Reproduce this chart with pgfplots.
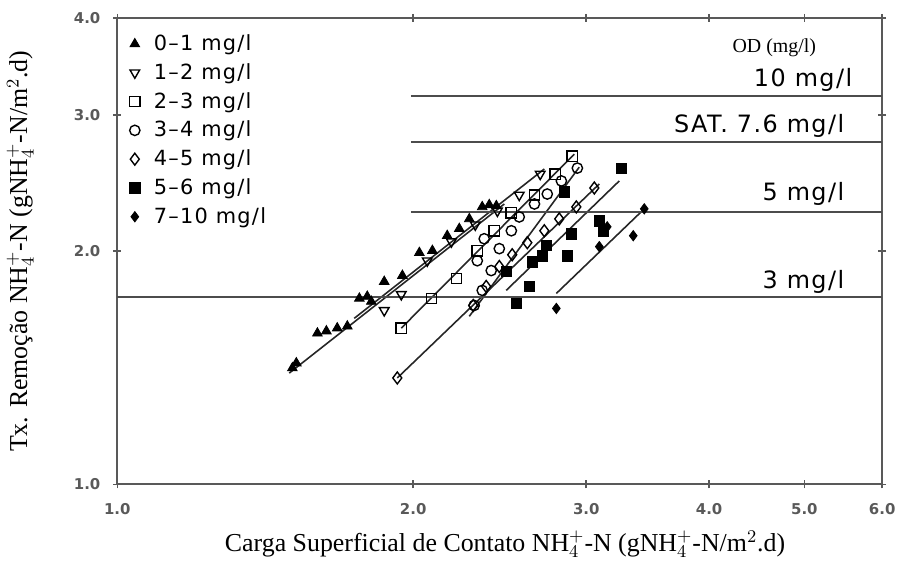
\documentclass[border=0pt]{standalone}
\usepackage{fontspec}
\setmainfont{Liberation Serif}
\newfontfamily\plotfont[LetterSpace=6]{DejaVu Sans}
\newfontfamily\tickfont{DejaVu Sans}
\usepackage{pgfplots}
\pgfplotsset{compat=1.18}
\definecolor{axgray}{gray}{0.35}
\definecolor{refgray}{gray}{0.3}
\newcommand{\nh}{NH$_{4}^{+}$}

\begin{document}
\begin{tikzpicture}
\begin{axis}[
    scale only axis,
    width=384.5pt, height=234.5pt,
    xmode=log, ymode=log,
    xmin=1, xmax=6, ymin=1, ymax=4,
    xtick={1,2,3,4,5,6},
    xticklabels={1.0,2.0,3.0,4.0,5.0,6.0},
    ytick={1,2,3,4},
    yticklabels={1.0,2.0,3.0,4.0},
    minor xtick={}, minor ytick={},
    tick align=center,
    major tick length=4pt,
    axis line style={axgray, line width=1pt},
    every tick/.style={axgray, line width=0.8pt},
    ticklabel style={font=\tickfont\bfseries\fontsize{7.5}{9}\selectfont, text=black!65},
    xticklabel style={yshift=-4pt},
    yticklabel style={xshift=-3pt},
    xlabel={Carga Superficial de Contato \nh-N (g\nh-N/m$^{2}$.d)},
    ylabel={Tx. Remoção \nh-N (g\nh-N/m$^{2}$.d)},
    label style={font=\fontsize{13}{15}\selectfont},
    xlabel style={at={(axis description cs:0.507,-0.128)}, anchor=center},
    ylabel style={at={(axis description cs:-0.127,0.5)}, anchor=center},
    clip=false,
    legend style={at={(axis description cs:0.013,0.978)}, anchor=north west,
        draw=none, fill=none, font=\plotfont\fontsize{10.5}{12}\selectfont,
        row sep=1pt, inner sep=1pt,
        /tikz/every odd column/.append style={column sep=5pt}},
    legend cell align=left,
    every axis plot/.append style={black},
]
% 0-1 mg/l
\addplot[only marks, mark=triangle*, mark size=2.8pt] coordinates {
(1.507,1.413) (1.521,1.434) (1.598,1.567) (1.632,1.577) (1.674,1.591) (1.714,1.600)
(1.763,1.738) (1.796,1.748) (1.813,1.722) (1.869,1.827) (1.950,1.860) (2.029,1.991)
(2.092,2.003) (2.166,2.094) (2.228,2.138) (2.281,2.201) (2.351,2.281) (2.390,2.295) (2.430,2.288)};
\addlegendentry{0–1 mg/l}
% 1-2 mg/l
\addplot[only marks, mark=triangle, mark size=2.8pt, mark options={rotate=180, line width=0.7pt}] coordinates {
(1.869,1.677) (1.945,1.759) (2.067,1.944) (2.187,2.057) (2.313,2.163) (2.436,2.254) (2.564,2.363) (2.693,2.515)};
\addlegendentry{1–2 mg/l}
% 2-3 mg/l
\addplot[only marks, mark=square, mark size=2.6pt, mark options={line width=0.7pt}] coordinates {
(1.945,1.591) (2.087,1.738) (2.213,1.844) (2.324,2.003) (2.418,2.125) (2.517,2.241) (2.657,2.363) (2.789,2.515) (2.903,2.652)};
\addlegendentry{2–3 mg/l}
% 3-4 mg/l
\addplot[only marks, mark=o, mark size=2.6pt, mark options={line width=0.7pt}] coordinates {
(2.307,1.702) (2.351,1.780) (2.401,1.888) (2.324,1.944) (2.447,2.015) (2.362,2.075) (2.517,2.125)
(2.564,2.214) (2.657,2.301) (2.738,2.370) (2.830,2.464) (2.938,2.560)};
\addlegendentry{3–4 mg/l}
% 4-5 mg/l
\addplot[only marks, mark=diamond, mark size=3pt, mark options={line width=0.7pt}] coordinates {
(1.927,1.372) (2.302,1.702) (2.373,1.801) (2.447,1.911) (2.522,1.979) (2.613,2.051) (2.719,2.125)
(2.816,2.201) (2.931,2.281) (3.057,2.413)};
\addlegendentry{4–5 mg/l}
% 5-6 mg/l
\addplot[only marks, mark=square*, mark size=2.6pt] coordinates {
(2.546,1.712) (2.625,1.801) (2.487,1.882) (2.644,1.938) (2.706,1.973) (2.732,2.033) (2.870,1.973)
(2.897,2.106) (3.093,2.189) (3.122,2.125) (3.256,2.560) (2.850,2.385)};
\addlegendentry{5–6 mg/l}
% 7-10 mg/l
\addplot[only marks, mark=diamond*, mark size=2.6pt] coordinates {
(2.797,1.687) (3.093,2.027) (3.151,2.150) (3.349,2.094) (3.437,2.268)};
\addlegendentry{7–10 mg/l}

% regression lines
\addplot[forget plot, black!85, line width=0.8pt] coordinates {(1.496,1.392) (2.476,2.301)};
\addplot[forget plot, black!85, line width=0.8pt] coordinates {(1.742,1.638) (2.719,2.553)};
\addplot[forget plot, black!85, line width=0.8pt] coordinates {(1.945,1.591) (2.917,2.668)};
\addplot[forget plot, black!85, line width=0.8pt] coordinates {(2.281,1.648) (2.951,2.567)};
\addplot[forget plot, black!85, line width=0.8pt] coordinates {(1.927,1.372) (3.093,2.442)};
\addplot[forget plot, black!85, line width=0.8pt] coordinates {(2.487,1.780) (3.241,2.464)};
\addplot[forget plot, black!85, line width=0.8pt] coordinates {(2.797,1.764) (3.437,2.268)};

% OD reference lines
\addplot[forget plot, refgray, line width=1pt] coordinates {(1.99,3.17) (6,3.17)};
\addplot[forget plot, refgray, line width=1pt] coordinates {(1.99,2.765) (6,2.765)};
\addplot[forget plot, refgray, line width=1pt] coordinates {(1.99,2.247) (6,2.247)};
\addplot[forget plot, refgray, line width=1pt] coordinates {(1,1.743) (6,1.743)};

\node[anchor=east, font=\plotfont\fontsize{12}{14}\selectfont] at (axis cs:5.686,3.33) {10 mg/l};
\node[anchor=east, font=\plotfont\fontsize{12}{14}\selectfont] at (axis cs:5.58,2.898) {SAT. 7.6 mg/l};
\node[anchor=east, font=\plotfont\fontsize{12}{14}\selectfont] at (axis cs:5.58,2.37) {5 mg/l};
\node[anchor=east, font=\plotfont\fontsize{12}{14}\selectfont] at (axis cs:5.58,1.827) {3 mg/l};
\node[font=\fontsize{10}{12}\selectfont] at (axis cs:4.66,3.66) {OD (mg/l)};

\path (axis description cs:-0.1534,-0.1663) rectangle (axis description cs:1.0195,1.0384);
\end{axis}
\end{tikzpicture}
\end{document}
